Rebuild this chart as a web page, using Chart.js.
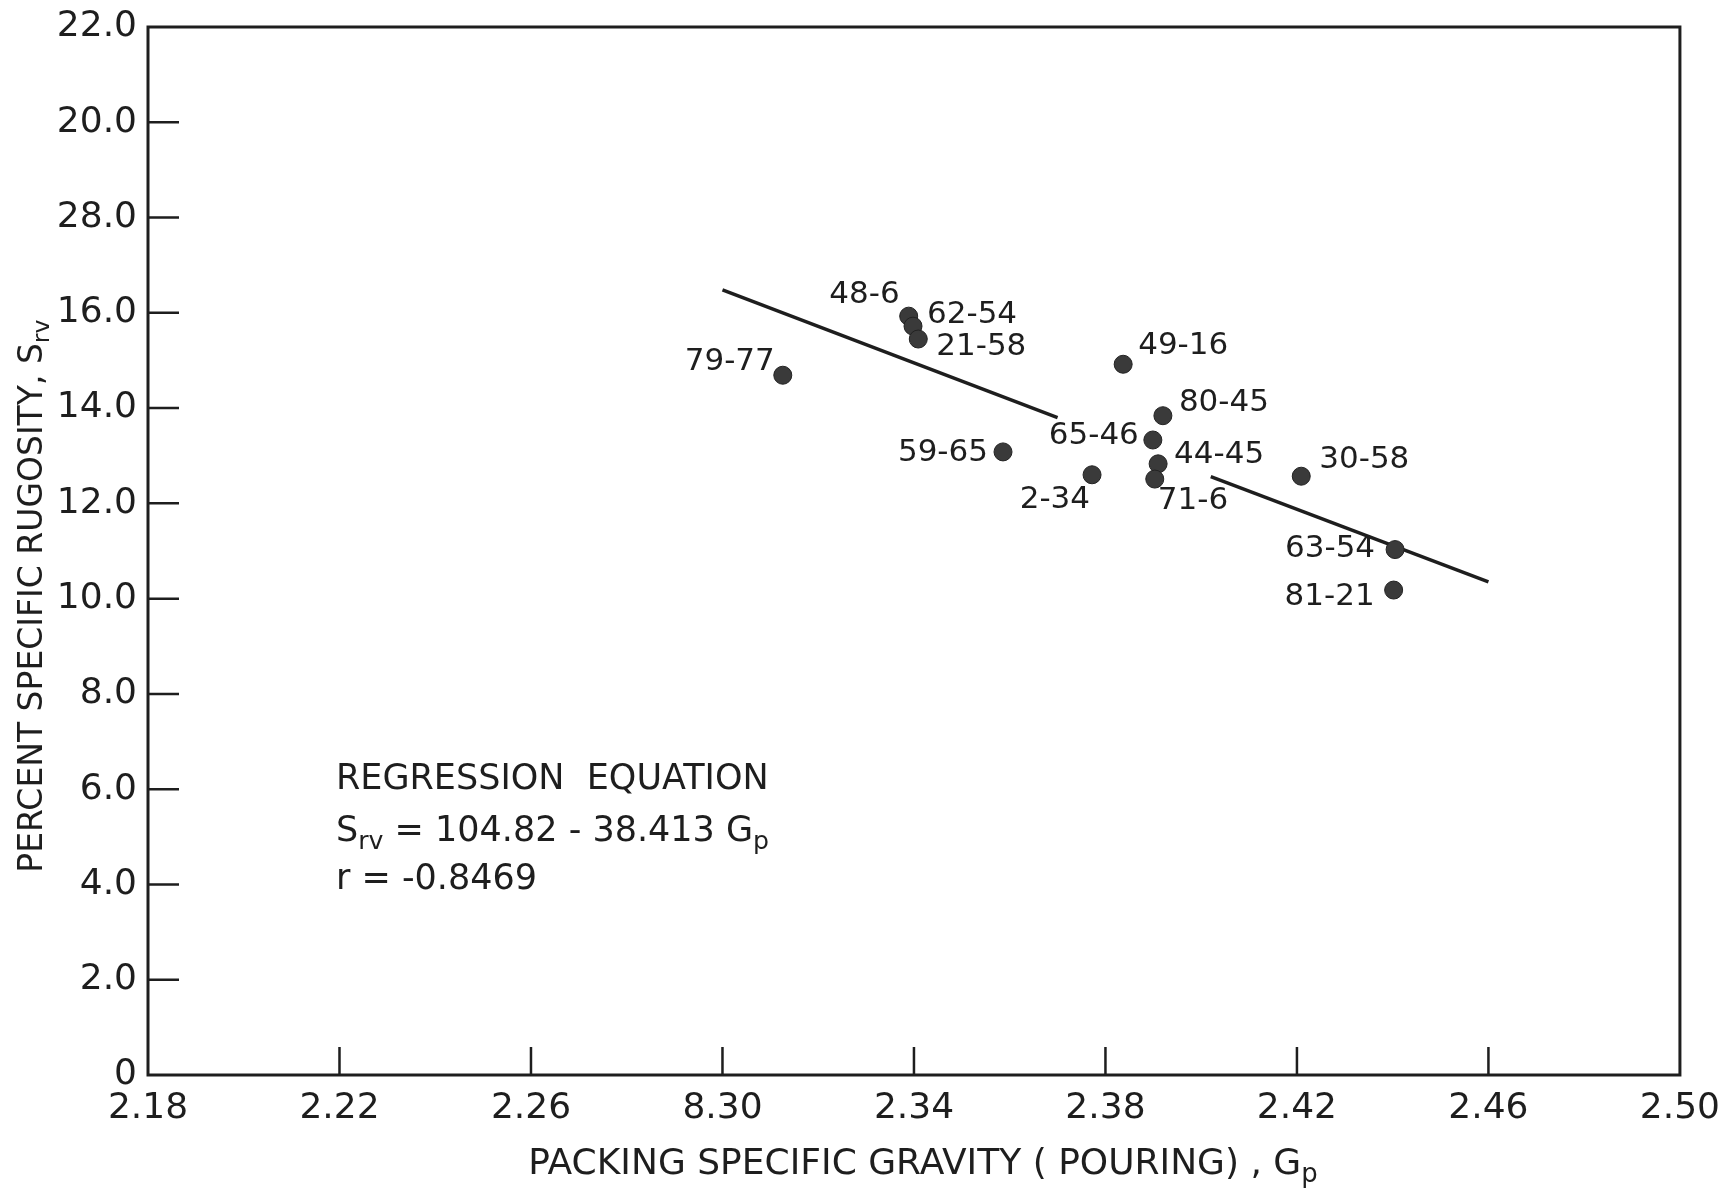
<!DOCTYPE html>
<html>
<head>
<meta charset="utf-8">
<script src="https://cdn.jsdelivr.net/npm/chart.js@4/dist/chart.umd.min.js"></script>
<style>
    html, body { margin: 0; padding: 0; background: #fff; }
</style>
</head>
<body>
<canvas id="scatterChart" width="1724" height="1190"></canvas>
<script>
// sample ids and values
let sampleNames = ["79-77", "48-6", "62-54", "21-58", "59-65", "2-34", "49-16",
                   "65-46", "80-45", "44-45", "71-6", "30-58", "63-54", "81-21"];
let gravity = [2.3126, 2.3389, 2.3398, 2.3409, 2.3586, 2.3772, 2.3837,
               2.3899, 2.3920, 2.3910, 2.3903, 2.4209, 2.4405, 2.4402];
let rugosity = [14.69, 15.93, 15.72, 15.45, 13.08, 12.60, 14.92,
                13.33, 13.84, 12.83, 12.51, 12.57, 11.03, 10.18];

// regression line, drawn in two pieces (gap around the labels)
let lineLeftX = [2.300, 2.370];
let lineLeftY = [16.48, 13.80];
let lineRightX = [2.402, 2.460];
let lineRightY = [12.56, 10.35];

// tick labels as printed (typos included)
let xTickValues = [2.18, 2.22, 2.26, 2.30, 2.34, 2.38, 2.42, 2.46, 2.50];
let xTickLabels = ["2.18", "2.22", "2.26", "8.30", "2.34", "2.38", "2.42", "2.46", "2.50"];
let yTickValues = [0, 2, 4, 6, 8, 10, 12, 14, 16, 18, 20, 22];
let yTickLabels = ["0", "2.0", "4.0", "6.0", "8.0", "10.0", "12.0", "14.0", "16.0", "28.0", "20.0", "22.0"];

// where each sample label sits relative to its dot: [dx, dy, align]
const labelPos = [
    [-8, -13, "right"], [-9, -21, "right"], [14, -11, "left"], [18, 8, "left"],
    [-15, 1, "right"], [-2, 25, "right"], [15, -18, "left"], [-14, -4, "right"],
    [16, -13, "left"], [16, -9, "left"], [3, 22, "left"], [18, -16, "left"],
    [-20, -1, "right"], [-19, 7, "right"]
];

const INK = "#1e1e1e";
const FONT = '"DejaVu Sans", sans-serif';

function toPoints(xs, ys) {
    return xs.map((x, i) => ({ x: x, y: ys[i] }));
}

// draws text pieces, some of them as subscripts, starting at x
function drawParts(ctx, parts, x, y, size) {
    parts.forEach(p => {
        const s = p.sub ? size * 0.72 : size;
        ctx.font = s + "px " + FONT;
        ctx.fillText(p.t, x, p.sub ? y + size * 0.22 : y);
        x += ctx.measureText(p.t).width;
    });
}
function partsWidth(ctx, parts, size) {
    let w = 0;
    parts.forEach(p => {
        ctx.font = (p.sub ? size * 0.72 : size) + "px " + FONT;
        w += ctx.measureText(p.t).width;
    });
    return w;
}

const paperPlugin = {
    id: "paper",
    afterDraw(chart) {
        const ctx = chart.ctx;
        const a = chart.chartArea;
        const xs = chart.scales.x, ys = chart.scales.y;
        ctx.save();
        ctx.strokeStyle = INK;
        ctx.fillStyle = INK;

        // frame
        ctx.lineWidth = 3;
        ctx.strokeRect(a.left, a.top, a.right - a.left, a.bottom - a.top);

        // inward tick marks
        ctx.lineWidth = 2.5;
        ctx.beginPath();
        yTickValues.slice(1, -1).forEach(v => {
            const py = ys.getPixelForValue(v);
            ctx.moveTo(a.left, py);
            ctx.lineTo(a.left + 31, py);
        });
        xTickValues.slice(1, -1).forEach(v => {
            const px = xs.getPixelForValue(v);
            ctx.moveTo(px, a.bottom);
            ctx.lineTo(px, a.bottom - 28);
        });
        ctx.stroke();

        // sample labels
        ctx.font = "31px " + FONT;
        ctx.textBaseline = "middle";
        sampleNames.forEach((name, i) => {
            const px = xs.getPixelForValue(gravity[i]);
            const py = ys.getPixelForValue(rugosity[i]);
            const p = labelPos[i];
            ctx.textAlign = p[2];
            ctx.fillText(name, px + p[0], py + p[1]);
        });

        // regression note
        ctx.textAlign = "left";
        ctx.textBaseline = "alphabetic";
        const nx = a.left + 188;
        drawParts(ctx, [{ t: "REGRESSION  EQUATION" }], nx, a.top + 762, 35);
        drawParts(ctx, [{ t: "S" }, { t: "rv", sub: true }, { t: " = 104.82 - 38.413 G" }, { t: "p", sub: true }],
                  nx, a.top + 814, 35);
        drawParts(ctx, [{ t: "r = -0.8469" }], nx, a.top + 862, 35);

        // x axis title
        const xParts = [{ t: "PACKING SPECIFIC GRAVITY ( POURING) , G" }, { t: "p", sub: true }];
        const xw = partsWidth(ctx, xParts, 36);
        drawParts(ctx, xParts, (a.left + a.right) / 2 + 9 - xw / 2, 1174, 36);

        // y axis title
        const yParts = [{ t: "PERCENT SPECIFIC RUGOSITY, S" }, { t: "rv", sub: true }];
        const yw = partsWidth(ctx, yParts, 33);
        ctx.translate(42, 596);
        ctx.rotate(-Math.PI / 2);
        drawParts(ctx, yParts, -yw / 2, 0, 33);
        ctx.restore();
    }
};

document.addEventListener("DOMContentLoaded", function () {
    const ctx = document.getElementById("scatterChart").getContext("2d");
    new Chart(ctx, {
        type: "scatter",
        data: {
            datasets: [{
                label: "samples",
                data: toPoints(gravity, rugosity),
                backgroundColor: "#3a3a3a",
                borderColor: "#222",
                borderWidth: 1,
                pointRadius: 9
            }, {
                label: "regression left",
                data: toPoints(lineLeftX, lineLeftY),
                showLine: true,
                borderColor: INK,
                borderWidth: 3.5,
                pointRadius: 0
            }, {
                label: "regression right",
                data: toPoints(lineRightX, lineRightY),
                showLine: true,
                borderColor: INK,
                borderWidth: 3.5,
                pointRadius: 0
            }]
        },
        options: {
            responsive: false,
            animation: false,
            layout: { padding: { top: 27, right: 44, left: 0, bottom: 0 } },
            plugins: {
                legend: { display: false },
                tooltip: { enabled: false }
            },
            scales: {
                x: {
                    type: "linear",
                    min: 2.18,
                    max: 2.50,
                    afterBuildTicks: s => { s.ticks = xTickValues.map(v => ({ value: v })); },
                    afterFit: s => { s.height = 115; },
                    grid: { display: false },
                    border: { display: false },
                    ticks: {
                        color: INK,
                        padding: 4,
                        maxRotation: 0,
                        autoSkip: false,
                        font: { family: "DejaVu Sans", size: 36 },
                        callback: (v, i) => xTickLabels[i]
                    }
                },
                y: {
                    type: "linear",
                    min: 0,
                    max: 22,
                    afterBuildTicks: s => { s.ticks = yTickValues.map(v => ({ value: v })); },
                    afterFit: s => { s.width = 148; },
                    grid: { display: false },
                    border: { display: false },
                    ticks: {
                        color: INK,
                        padding: 3,
                        autoSkip: false,
                        font: { family: "DejaVu Sans", size: 36 },
                        callback: (v, i) => yTickLabels[i]
                    }
                }
            }
        },
        plugins: [paperPlugin]
    });
});
</script>
</body>
</html>
